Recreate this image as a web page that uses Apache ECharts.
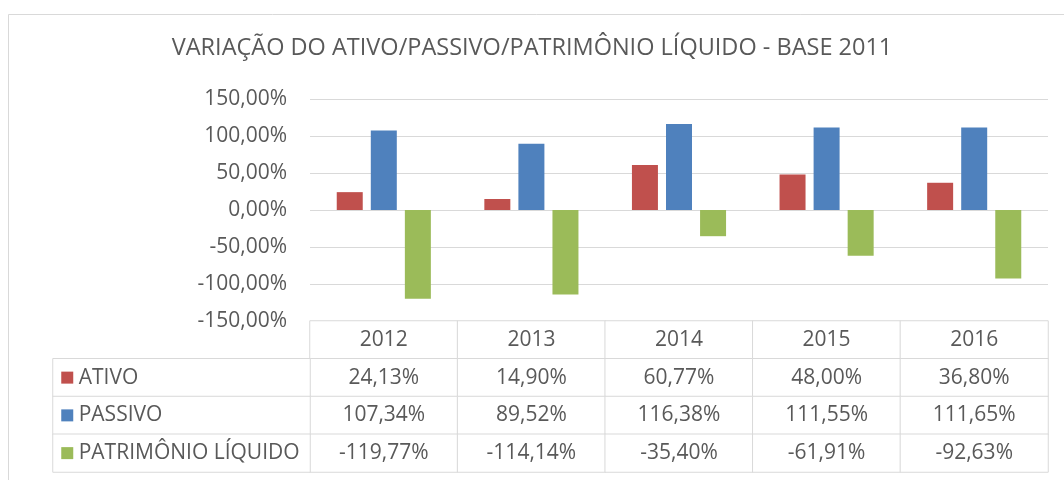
<!DOCTYPE html>
<html>
<head>
<meta charset="utf-8">
<script src="https://cdn.jsdelivr.net/npm/echarts@6/dist/echarts.min.js"></script>
<style>
html,body{margin:0;padding:0;background:#fff;}
#chart{width:1064px;height:480px;}
</style>
</head>
<body>
<div id="chart"></div>
<script>
// ---- data ----
const categories = ['2012', '2013', '2014', '2015', '2016'];
const seriesNames = ['ATIVO', 'PASSIVO', 'PATRIMÔNIO LÍQUIDO'];
const ativo = [24.13, 14.90, 60.77, 48.00, 36.80];
const passivo = [107.34, 89.52, 116.38, 111.55, 111.65];
const patrimonio = [-119.77, -114.14, -35.40, -61.91, -92.63];
const yMin = -150, yMax = 150, yStep = 50;
const titleText = 'VARIAÇÃO DO ATIVO/PASSIVO/PATRIMÔNIO LÍQUIDO - BASE 2011';

// ---- style ----
const colors = ['#C0504D', '#4F81BD', '#9BBB59'];
const textColor = '#595959';
const lineColor = '#D9D9D9';
const font = 'Open Sans';
const values = [ativo, passivo, patrimonio];

const fmt = v => v.toFixed(2).replace('.', ',') + '%';

// table cells (data part): row 0 = header (years), rows 1..3 = series
const tableCells = [];
for (let r = 0; r < 4; r++) {
  for (let c = 0; c < categories.length; c++) {
    tableCells.push([c, r, 0]);
  }
}
const labelCells = seriesNames.map((n, i) => ({
  value: [0, i + 1, 0],
  label: { rich: { m: { width: 12, height: 12, backgroundColor: colors[i] } } }
}));

const chart = echarts.init(document.getElementById('chart'), null, { renderer: 'canvas' });
chart.setOption({
  animation: false,
  backgroundColor: '#fff',
  title: {
    text: titleText,
    left: 'center',
    top: 31,
    textStyle: { color: textColor, fontSize: 23.5, fontWeight: 'normal', fontFamily: font }
  },
  graphic: [{
    type: 'rect', silent: true, z: -10,
    shape: { x: 8.5, y: 14.5, width: 1200, height: 600 },
    style: { fill: 'none', stroke: lineColor, lineWidth: 1 }
  }],
  grid: [
    { left: 310, right: 16, top: 99, height: 222 },
    { left: 310, right: 16, top: 321, height: 151 },
    { left: 53, width: 257, top: 321, height: 151 }
  ],
  xAxis: [
    { type: 'category', gridIndex: 0, data: categories, axisLabel: { show: false }, axisTick: { show: false }, axisLine: { show: false } },
    { type: 'category', gridIndex: 1, data: categories, show: false },
    { type: 'category', gridIndex: 2, data: ['x'], show: false }
  ],
  yAxis: [
    {
      type: 'value', gridIndex: 0, min: yMin, max: yMax, interval: yStep,
      axisLine: { show: false }, axisTick: { show: false },
      splitLine: { lineStyle: { color: lineColor, width: 1 } },
      axisLabel: { color: textColor, fontSize: 21, fontFamily: font, margin: 23, formatter: v => fmt(v) }
    },
    { type: 'category', gridIndex: 1, data: ['h', 'r1', 'r2', 'r3'], inverse: true, show: false },
    { type: 'category', gridIndex: 2, data: ['h', 'r1', 'r2', 'r3'], inverse: true, show: false }
  ],
  series: [
    ...seriesNames.map((n, i) => ({
      name: n, type: 'bar', xAxisIndex: 0, yAxisIndex: 0,
      data: values[i], barWidth: 26, barGap: '31%',
      itemStyle: { color: colors[i] }
    })),
    {
      type: 'heatmap', xAxisIndex: 1, yAxisIndex: 1, data: tableCells,
      itemStyle: { color: '#fff', borderColor: lineColor, borderWidth: 1 },
      emphasis: { disabled: true },
      label: {
        show: true, color: textColor, fontSize: 21, fontFamily: font,
        formatter: p => {
          const c = p.value[0], r = p.value[1];
          return r === 0 ? categories[c] : fmt(values[r - 1][c]);
        }
      }
    },
    {
      type: 'heatmap', xAxisIndex: 2, yAxisIndex: 2, data: labelCells,
      itemStyle: { color: '#fff', borderColor: lineColor, borderWidth: 1 },
      emphasis: { disabled: true },
      label: {
        show: true, position: 'insideLeft', distance: 9, color: textColor, fontSize: 21, fontFamily: font,
        formatter: p => '{m|} ' + seriesNames[p.value[1] - 1]
      }
    }
  ]
});
</script>
</body>
</html>
